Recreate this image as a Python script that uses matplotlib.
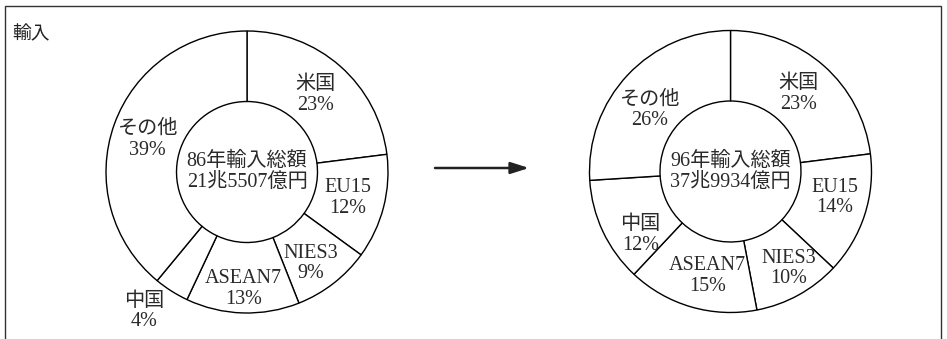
import matplotlib
matplotlib.use("Agg")
import matplotlib.pyplot as plt
import numpy as np
from matplotlib.patches import Rectangle

# ---- data ----
categories = ["米国", "EU15", "NIES3", "ASEAN7", "中国", "その他"]
share_86 = [23, 12, 9, 13, 4, 39]
share_96 = [23, 14, 10, 15, 12, 26]
center_86 = "86年輸入総額\n21兆5507億円"
center_96 = "96年輸入総額\n37兆9934億円"
panel_title = "輸入"

# ---- styling ----
W, H = 947, 339
FONT = ["Liberation Serif", "Noto Sans CJK JP", "DejaVu Sans"]
FS = 14.5
LS = 1.12

fig = plt.figure(figsize=(W / 100, H / 100), dpi=100)
ax = fig.add_axes([0, 0, 1, 1])

R = 141.0
HOLE = 0.5

# per-label radius factors and angle offsets (layout only)
lab_r_86 = [0.73, 0.74, 0.79, 0.83, 1.23, 0.74]
lab_da_86 = [0, 0, -3, 0, -4, 2]
lab_r_96 = [0.73, 0.76, 0.80, 0.76, 0.78, 0.72]
lab_da_96 = [0, 4, 2, 4, 10, 6]


def donut(vals, cx, cy, ctext, lab_r, lab_da):
    wedges, _ = ax.pie(vals, startangle=90, counterclock=False, radius=R,
                       center=(cx, cy),
                       wedgeprops=dict(width=R * (1 - HOLE), facecolor="white",
                                       edgecolor="black", linewidth=1.0))
    for w, name, v, rf, da in zip(wedges, categories, vals, lab_r, lab_da):
        ang = np.deg2rad((w.theta1 + w.theta2) / 2 + da)
        x = cx + rf * R * np.cos(ang)
        y = cy + rf * R * np.sin(ang)
        ax.text(x, y, f"{name}\n{v}%", ha="center", va="center",
                fontsize=FS, family=FONT, linespacing=LS, color="#2a2a2a")
    ax.text(cx, cy, ctext, ha="center", va="center", fontsize=FS,
            family=FONT, linespacing=LS, color="#2a2a2a")


donut(share_86, 247, H - 172, center_86, lab_r_86, lab_da_86)
donut(share_96, 730.5, H - 171.5, center_96, lab_r_96, lab_da_96)

# arrow
ax.annotate("", xy=(529, H - 168), xytext=(435, H - 168),
            arrowprops=dict(arrowstyle="-|>,head_length=1.1,head_width=0.35",
                            color="#222222", lw=1.8, shrinkA=0, shrinkB=0))

# frame
ax.add_patch(Rectangle((4.5, -10), 936, H - 5 + 10 - 0.5, fill=False,
                       edgecolor="#333333", linewidth=1.0))

ax.text(12, H - 34, panel_title, ha="left", va="center", fontsize=13.5,
        family=["Noto Sans CJK JP", "DejaVu Sans"], color="#222222")

ax.set_xlim(0, W)
ax.set_ylim(0, H)
ax.set_aspect("equal")
ax.axis("off")

fig.savefig("out.png", dpi=100)
